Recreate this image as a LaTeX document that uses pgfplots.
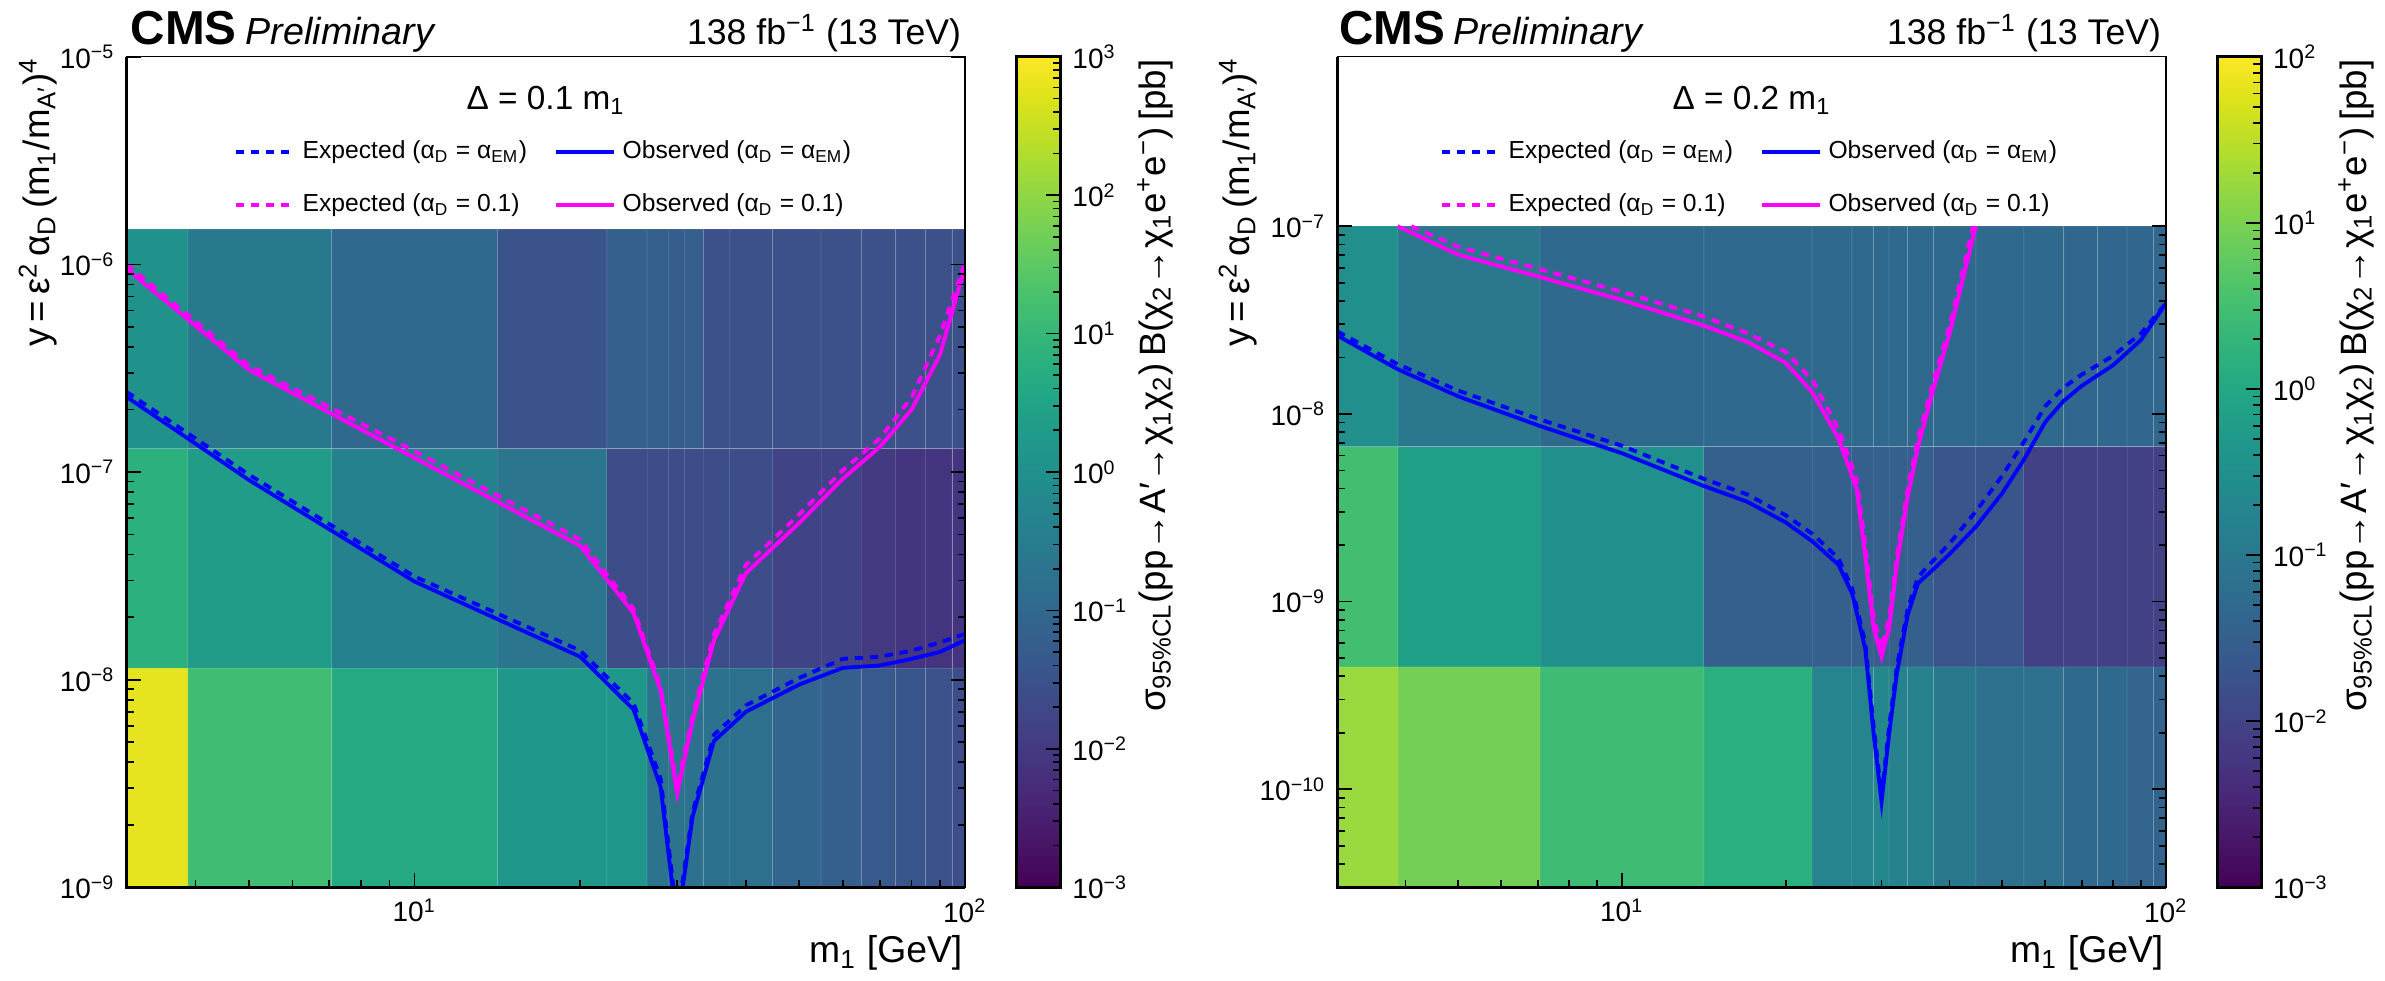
\documentclass[border=0pt]{standalone}
\usepackage{fontspec}
\setmainfont{Liberation Sans}
\usepackage{pgfplots}
\usepackage{pgfplotstable}
\pgfplotsset{compat=1.18}
\definecolor{mblue}{RGB}{0,0,255}
\definecolor{mmag}{RGB}{255,0,255}
\newcommand\sz[1]{\fontsize{#1pt}{#1pt}\selectfont}
\newcommand\tp[1]{10\textsuperscript{#1}}
\newcommand\aD{α\textsubscript{D}}
\newcommand\ylab{y\,=\,ε\textsuperscript{2}\,α\textsubscript{D}\,(m\textsubscript{1}/m\textsubscript{A′})\textsuperscript{4}}
\newcommand\zlab{σ\textsubscript{95\%CL}(pp→A′→χ\textsubscript{1}χ\textsubscript{2})\,B(χ\textsubscript{2}→χ\textsubscript{1}e\textsuperscript{+}e\textsuperscript{−})\,[pb]}
\tikzset{expline/.style={line width=1.15pt, dash pattern=on 2.5pt off 2pt},
         obsline/.style={line width=1.15pt}}

\pgfplotstableread{
x y c
3 3.37e-9 2.78
5 3.37e-9 1.15
10 3.37e-9 0.62
20 3.37e-9 0.2
25 3.37e-9 0.2
28 3.37e-9 -0.72
30 3.37e-9 -0.72
32 3.37e-9 -0.74
35 3.37e-9 -0.76
40 3.37e-9 -0.8
50 3.37e-9 -1.05
60 3.37e-9 -1.2
70 3.37e-9 -1.35
80 3.37e-9 -1.4
90 3.37e-9 -1.5
100 3.37e-9 -1.6
3 3.84e-8 0.84
5 3.84e-8 0.3
10 3.84e-8 -0.38
20 3.84e-8 -0.66
25 3.84e-8 -1.6
28 3.84e-8 -1.6
30 3.84e-8 -1.6
32 3.84e-8 -1.6
35 3.84e-8 -1.6
40 3.84e-8 -1.6
50 3.84e-8 -1.8
60 3.84e-8 -1.8
70 3.84e-8 -2.0
80 3.84e-8 -2.1
90 3.84e-8 -2.1
100 3.84e-8 -2.1
3 4.38e-7 0.02
5 4.38e-7 -0.58
10 4.38e-7 -1.0
20 4.38e-7 -1.45
25 4.38e-7 -1.2
28 4.38e-7 -1.2
30 4.38e-7 -1.25
32 4.38e-7 -1.2
35 4.38e-7 -1.55
40 4.38e-7 -1.55
50 4.38e-7 -1.55
60 4.38e-7 -1.55
70 4.38e-7 -1.55
80 4.38e-7 -1.55
90 4.38e-7 -1.55
100 4.38e-7 -1.55
}\cellsL

\pgfplotstableread{
x y c
3 1.16e-10 1.25
5 1.16e-10 0.95
10 1.16e-10 0.45
20 1.16e-10 0.15
25 1.16e-10 -0.75
28 1.16e-10 -0.75
30 1.16e-10 -0.68
32 1.16e-10 -0.78
35 1.16e-10 -0.78
40 1.16e-10 -1.0
50 1.16e-10 -1.15
60 1.16e-10 -1.15
70 1.16e-10 -1.3
80 1.16e-10 -1.3
90 1.16e-10 -1.4
100 1.16e-10 -1.4
3 1.73e-9 0.5
5 1.73e-9 -0.15
10 1.73e-9 -0.5
20 1.73e-9 -1.5
25 1.73e-9 -1.5
28 1.73e-9 -1.5
30 1.73e-9 -1.5
32 1.73e-9 -1.5
35 1.73e-9 -1.5
40 1.73e-9 -1.7
50 1.73e-9 -1.7
60 1.73e-9 -2.05
70 1.73e-9 -2.05
80 1.73e-9 -2.05
90 1.73e-9 -2.05
100 1.73e-9 -2.05
3 2.59e-8 -0.5
5 2.59e-8 -1.03
10 2.59e-8 -1.28
20 2.59e-8 -1.28
25 2.59e-8 -1.28
28 2.59e-8 -1.28
30 2.59e-8 -1.28
32 2.59e-8 -1.28
35 2.59e-8 -1.28
40 2.59e-8 -1.28
50 2.59e-8 -1.3
60 2.59e-8 -1.3
70 2.59e-8 -1.35
80 2.59e-8 -1.35
90 2.59e-8 -1.35
100 2.59e-8 -1.35
}\cellsR

\begin{document}
\begin{tikzpicture}
\useasboundingbox (0,0) rectangle (715.5pt,294.3pt);

% ---------------- left panel ----------------
\begin{axis}[name=L, at={(38.01pt,28.11pt)}, anchor=south west,
  scale only axis, width=251.49pt, height=249.18pt,
  xmode=log, ymode=log, xmin=3, xmax=100, ymin=1e-9, ymax=1e-5,
  axis on top, tick align=inside,
  xtick pos=left, ytick pos=both, yticklabel pos=left,
  xtick={10,100}, xticklabels={\tp{1},\tp{2}},
  minor xtick={4,5,6,7,8,9,20,30,40,50,60,70,80,90},
  ytick={1e-9,1e-8,1e-7,1e-6,1e-5},
  yticklabels={\tp{−9},\tp{−8},\tp{−7},\tp{−6},\tp{−5}},
  minor ytick={2e-9,3e-9,4e-9,5e-9,6e-9,7e-9,8e-9,9e-9,2e-8,3e-8,4e-8,5e-8,6e-8,7e-8,8e-8,9e-8,2e-7,3e-7,4e-7,5e-7,6e-7,7e-7,8e-7,9e-7},
  major tick length=4.2pt, minor tick length=2.1pt,
  tick style={black, line width=0.5pt},
  tick label style={font=\sz{8.4}},
  axis line style={line width=0.35pt},
  colormap/viridis,
  point meta min=-3, point meta max=3,
  legend columns=2, legend cell align=left,
  legend style={draw=none, fill=none, font=\sz{7.4},
    at={(axis description cs:0.5,0.853)}, anchor=center,
    column sep=0pt, row sep=5pt,
    /tikz/every even column/.append style={column sep=6pt}},
  legend image code/.code={\draw[#1] (0pt,0pt) -- (17.5pt,0pt);},
  colorbar,
  colorbar shift/.style={xshift=15.5pt},
  colorbar style={
    scale only axis, width=13.2pt, height=249.18pt,
    at={(parent axis.north east)}, anchor=north west,
    tick align=inside, ytick pos=right, yticklabel pos=right,
    major tick length=4.5pt, minor tick length=2.4pt,
    tick style={black, line width=0.5pt},
    axis line style={line width=1pt},
    yticklabel style={font=\sz{8.4}},
    ytick={-3,-2,-1,0,1,2,3},
    yticklabels={\tp{−3},\tp{−2},\tp{−1},\tp{0},\tp{1},\tp{2},\tp{3}},
    minor ytick={-2.69897,-2.52288,-2.39794,-2.30103,-2.22185,-2.15490,-2.09691,-2.04576,
      -1.69897,-1.52288,-1.39794,-1.30103,-1.22185,-1.15490,-1.09691,-1.04576,
      -0.69897,-0.52288,-0.39794,-0.30103,-0.22185,-0.15490,-0.09691,-0.04576,
      0.30103,0.47712,0.60206,0.69897,0.77815,0.84510,0.90309,0.95424,
      1.30103,1.47712,1.60206,1.69897,1.77815,1.84510,1.90309,1.95424,
      2.30103,2.47712,2.60206,2.69897,2.77815,2.84510,2.90309,2.95424}},
]
\addplot[matrix plot*, shader=faceted, faceted color=white, draw opacity=0.08, line width=0.3pt, mesh/cols=16, point meta=explicit, forget plot] table[meta=c] {\cellsL};
\addplot[mblue, expline] table {
3 2.43e-7
5 9.72e-8
10 3.14e-8
20 1.38e-8
25 7.69e-9
28 3.33e-9
30 7.08e-10
32 2.30e-9
35 5.43e-9
40 7.52e-9
50 1.02e-8
60 1.26e-8
70 1.29e-8
80 1.38e-8
90 1.51e-8
100 1.66e-8
};
\addlegendentry{Expected (\aD{} = α\textsubscript{EM})}
\addplot[mblue, obsline] table {
3 2.30e-7
5 9.16e-8
10 2.97e-8
20 1.29e-8
25 7.18e-9
28 3.03e-9
30 6.46e-10
32 2.19e-9
35 5.07e-9
40 7.01e-9
50 9.48e-9
60 1.14e-8
70 1.17e-8
80 1.26e-8
90 1.36e-8
100 1.55e-8
};
\addlegendentry{Observed (\aD{} = α\textsubscript{EM})}
\addplot[mmag, expline] table {
3 1.0e-6
5 3.26e-7
10 1.26e-7
20 4.73e-8
25 2.19e-8
28 9.27e-9
30 3.03e-9
32 6.76e-9
35 1.66e-8
40 3.57e-8
50 6.25e-8
60 1.02e-7
70 1.45e-7
80 2.29e-7
90 4.52e-7
100 1.02e-6
};
\addlegendentry{Expected (\aD{} = 0.1)}
\addplot[mmag, obsline] table {
3 9.5e-7
5 3.11e-7
10 1.17e-7
20 4.41e-8
25 2.09e-8
28 8.85e-9
30 2.83e-9
32 6.31e-9
35 1.55e-8
40 3.26e-8
50 5.69e-8
60 9.29e-8
70 1.32e-7
80 2.0e-7
90 3.66e-7
100 9.72e-7
};
\addlegendentry{Observed (\aD{} = 0.1)}
\node[anchor=base, font=\sz{10}] at (axis description cs:0.5,0.9367) {Δ = 0.1 m\textsubscript{1}};
\end{axis}
\draw[line width=0.85pt] (L.north west) -- (L.south west) -- (L.south east);

% ---------------- right panel ----------------
\begin{axis}[name=R, at={(401.25pt,28.11pt)}, anchor=south west,
  scale only axis, width=248.55pt, height=249.18pt,
  xmode=log, ymode=log, xmin=3, xmax=100, ymin=3e-11, ymax=8e-7,
  axis on top, tick align=inside,
  xtick pos=left, ytick pos=both, yticklabel pos=left,
  xtick={10,100}, xticklabels={\tp{1},\tp{2}},
  minor xtick={4,5,6,7,8,9,20,30,40,50,60,70,80,90},
  ytick={1e-10,1e-9,1e-8,1e-7},
  yticklabels={\tp{−10},\tp{−9},\tp{−8},\tp{−7}},
  minor ytick={4e-11,5e-11,6e-11,7e-11,8e-11,9e-11,2e-10,3e-10,4e-10,5e-10,6e-10,7e-10,8e-10,9e-10,2e-9,3e-9,4e-9,5e-9,6e-9,7e-9,8e-9,9e-9,2e-8,3e-8,4e-8,5e-8,6e-8,7e-8,8e-8,9e-8},
  major tick length=4.2pt, minor tick length=2.1pt,
  tick style={black, line width=0.5pt},
  tick label style={font=\sz{8.4}},
  axis line style={line width=0.35pt},
  colormap/viridis,
  point meta min=-3, point meta max=2,
  legend columns=2, legend cell align=left,
  legend style={draw=none, fill=none, font=\sz{7.4},
    at={(axis description cs:0.5,0.853)}, anchor=center,
    column sep=0pt, row sep=5pt,
    /tikz/every even column/.append style={column sep=6pt}},
  legend image code/.code={\draw[#1] (0pt,0pt) -- (17.5pt,0pt);},
  colorbar,
  colorbar shift/.style={xshift=15.4pt},
  colorbar style={
    scale only axis, width=13.2pt, height=249.18pt,
    at={(parent axis.north east)}, anchor=north west,
    tick align=inside, ytick pos=right, yticklabel pos=right,
    major tick length=4.5pt, minor tick length=2.4pt,
    tick style={black, line width=0.5pt},
    axis line style={line width=1pt},
    yticklabel style={font=\sz{8.4}},
    ytick={-3,-2,-1,0,1,2},
    yticklabels={\tp{−3},\tp{−2},\tp{−1},\tp{0},\tp{1},\tp{2}},
    minor ytick={-2.69897,-2.52288,-2.39794,-2.30103,-2.22185,-2.15490,-2.09691,-2.04576,
      -1.69897,-1.52288,-1.39794,-1.30103,-1.22185,-1.15490,-1.09691,-1.04576,
      -0.69897,-0.52288,-0.39794,-0.30103,-0.22185,-0.15490,-0.09691,-0.04576,
      0.30103,0.47712,0.60206,0.69897,0.77815,0.84510,0.90309,0.95424,
      1.30103,1.47712,1.60206,1.69897,1.77815,1.84510,1.90309,1.95424}},
]
\addplot[matrix plot*, shader=faceted, faceted color=white, draw opacity=0.08, line width=0.3pt, mesh/cols=16, point meta=explicit, forget plot] table[meta=c] {\cellsR};
\addplot[mblue, expline] table {
3 2.75e-8
3.87 1.84e-8
5 1.33e-8
7.07 9.33e-9
10 6.76e-9
14.1 4.52e-9
17 3.72e-9
20 2.88e-9
22.4 2.29e-9
25 1.70e-9
26.5 1.17e-9
28 6.03e-10
29 2.19e-10
30 9.33e-11
31 2.19e-10
32 4.47e-10
33.5 9.12e-10
35 1.35e-9
37.4 1.66e-9
40 2.04e-9
44.7 3.02e-9
50 4.68e-9
54.8 7.08e-9
60 1.10e-8
64.8 1.38e-8
70 1.62e-8
80 2.04e-8
90 2.69e-8
100 3.89e-8
};
\addlegendentry{Expected (\aD{} = α\textsubscript{EM})}
\addplot[mblue, obsline] table {
3 2.61e-8
3.87 1.73e-8
5 1.24e-8
7.07 8.61e-9
10 6.17e-9
14.1 4.14e-9
17 3.40e-9
20 2.64e-9
22.4 2.09e-9
25 1.57e-9
26.5 1.10e-9
28 5.61e-10
29 2.00e-10
30 8.57e-11
31 2.00e-10
32 4.12e-10
33.5 8.47e-10
35 1.25e-9
37.4 1.49e-9
40 1.79e-9
44.7 2.50e-9
50 3.78e-9
54.8 5.70e-9
60 9.06e-9
64.8 1.17e-8
70 1.41e-8
80 1.82e-8
90 2.48e-8
100 3.89e-8
};
\addlegendentry{Observed (\aD{} = α\textsubscript{EM})}
\addplot[mmag, expline] table {
4.1 1.0e-7
5 7.76e-8
7.07 5.89e-8
10 4.47e-8
14.1 3.31e-8
17 2.69e-8
20 2.14e-8
22.4 1.51e-8
25 8.32e-9
27 4.47e-9
28 2.0e-9
29 8.32e-10
30 5.62e-10
31 8.32e-10
32 1.74e-9
33.5 3.98e-9
35 7.41e-9
37.4 1.51e-8
40 2.95e-8
44.2 1.0e-7
};
\addlegendentry{Expected (\aD{} = 0.1)}
\addplot[mmag, obsline] table {
3.87 1.0e-7
5 7.05e-8
7.07 5.36e-8
10 4.04e-8
14.1 2.96e-8
17 2.42e-8
20 1.87e-8
22.4 1.30e-8
25 7.38e-9
27 3.98e-9
28 1.75e-9
29 7.26e-10
30 5.07e-10
31 7.26e-10
32 1.57e-9
33.5 3.59e-9
35 6.65e-9
37.4 1.37e-8
40 2.67e-8
44.7 1.0e-7
};
\addlegendentry{Observed (\aD{} = 0.1)}
\node[anchor=base, font=\sz{10}] at (axis description cs:0.5,0.9367) {Δ = 0.2 m\textsubscript{1}};
\end{axis}
\draw[line width=0.85pt] (R.north west) -- (R.south west) -- (R.south east);

% ---------------- texts ----------------
\node[anchor=base west, inner sep=0pt, font=\sz{14.3}\bfseries] at (39pt,280.8pt) {CMS};
\node[anchor=base west, inner sep=0pt, font=\sz{11.3}\itshape] at (73.5pt,280.8pt) {Preliminary};
\node[anchor=base east, inner sep=0pt, font=\sz{10.7}] at (288.5pt,280.8pt) {138 fb\textsuperscript{−1} (13 TeV)};
\node[anchor=base west, inner sep=0pt, font=\sz{14.3}\bfseries] at (401.6pt,280.8pt) {CMS};
\node[anchor=base west, inner sep=0pt, font=\sz{11.3}\itshape] at (435.9pt,280.8pt) {Preliminary};
\node[anchor=base east, inner sep=0pt, font=\sz{10.7}] at (648.5pt,280.8pt) {138 fb\textsuperscript{−1} (13 TeV)};

\node[anchor=base east, inner sep=0pt, font=\sz{11.2}] at (288.9pt,5.4pt) {m\textsubscript{1} [GeV]};
\node[anchor=base east, inner sep=0pt, font=\sz{11.2}] at (649.2pt,5.4pt) {m\textsubscript{1} [GeV]};

\node[rotate=90, anchor=east, inner sep=0pt, font=\sz{11}] at (11.4pt,277.2pt) {\ylab};
\node[rotate=90, anchor=east, inner sep=0pt, font=\sz{11}] at (371.4pt,277.2pt) {\ylab};
\node[rotate=90, anchor=east, inner sep=0pt, font=\sz{11}] at (346.5pt,276.6pt) {\zlab};
\node[rotate=90, anchor=east, inner sep=0pt, font=\sz{11}] at (706.8pt,276.6pt) {\zlab};
\end{tikzpicture}
\end{document}
